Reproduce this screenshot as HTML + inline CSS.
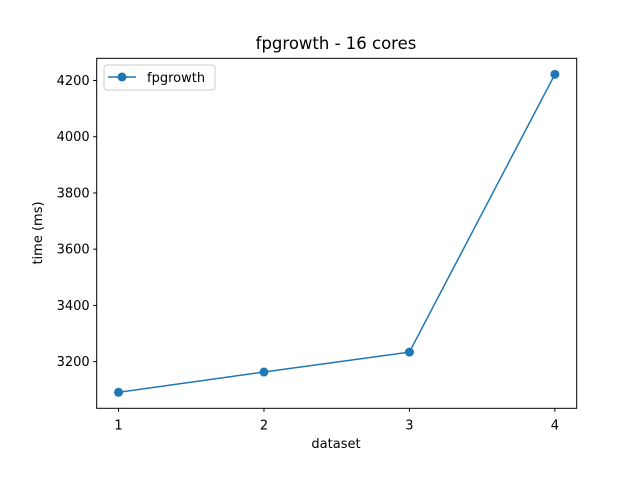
<!DOCTYPE html>
<html><head><meta charset="utf-8"><style>
body{margin:0;background:#fff}
svg text{font-family:"DejaVu Sans","Liberation Sans",sans-serif;fill:#000}
</style></head><body>
<svg id="chart" width="640" height="480">
<rect width="640" height="480" fill="#fff"/>
<g id="plot"></g>
<text x="336" y="49" font-size="16.5" text-anchor="middle">fpgrowth - 16 cores</text>
<text x="336" y="448" font-size="13" text-anchor="middle">dataset</text>
<text transform="translate(42,233) rotate(-90)" font-size="13" text-anchor="middle">time (ms)</text>
<g>
<rect x="104" y="65" width="111" height="25" rx="3" fill="#fff" stroke="#ccc"/>
<line x1="108" y1="77" x2="136" y2="77" stroke="#1f77b4" stroke-width="1.5"/>
<circle cx="122" cy="77" r="4.5" fill="#1f77b4"/>
<text x="147" y="82" font-size="13">fpgrowth</text>
</g>
</svg>
<script>
const categories=[1,2,3,4];
const values=[3091,3163,3234,4222];
const yTicks=[3200,3400,3600,3800,4000,4200];
const X0=96.7,X1=576.7,Y0=58.3,Y1=408.3;
const xmin=0.85,xmax=4.15,ymin=3034,ymax=4279;
const sx=v=>X0+(v-xmin)/(xmax-xmin)*(X1-X0);
const sy=v=>Y1-(v-ymin)/(ymax-ymin)*(Y1-Y0);
const g=document.getElementById('plot');
const NS='http://www.w3.org/2000/svg';
function mk(t,a){const e=document.createElementNS(NS,t);for(const k in a)e.setAttribute(k,a[k]);g.appendChild(e);return e;}
const fr=mk('rect',{x:X0,y:Y0,width:X1-X0,height:Y1-Y0,fill:'none',stroke:'#000','stroke-width':1});


yTicks.forEach(v=>{const y=sy(v);
const l=mk('line',{x1:X0-3.5,x2:X0,y1:y,y2:y,stroke:'#000'});


const t=mk('text',{x:X0-7,y:y+4.5,'font-size':13,'text-anchor':'end'});t.textContent=v;

});
categories.forEach(v=>{const x=sx(v);
const l=mk('line',{x1:x,x2:x,y1:Y1,y2:Y1+3.5,stroke:'#000'});


const t=mk('text',{x:x,y:Y1+21,'font-size':13,'text-anchor':'middle'});t.textContent=v;

});
const pl=mk('polyline',{points:categories.map((c,i)=>sx(c)+','+sy(values[i])).join(' '),fill:'none',stroke:'#1f77b4','stroke-width':1.5});


categories.forEach((c,i)=>{const p=mk('circle',{cx:sx(c),cy:sy(values[i]),r:4.5,fill:'#1f77b4'});

});
</script>
</body></html>
